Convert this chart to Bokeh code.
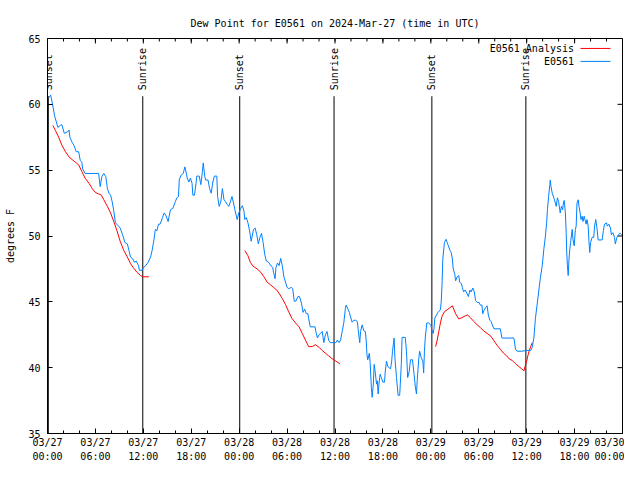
import math
from bokeh.plotting import figure
from bokeh.models import FixedTicker, Range1d, ColumnDataSource
from bokeh.core.properties import value
from bokeh.embed import file_html
from bokeh.resources import INLINE

FONT = "DejaVu Sans Mono"

# ---- data: hours since 2024-03-27 00:00 UTC ----
obs_hours = [0.16, 0.4, 0.6, 0.9, 1.3, 1.6, 1.8, 2.1, 2.5, 2.7, 2.8, 3.1, 3.3, 3.6, 3.9, 4.1, 4.3, 4.4, 4.7, 6.4,
             6.6, 6.8, 7.05, 7.3, 7.5, 7.7, 7.9, 8.1, 8.3, 8.5, 8.9, 9.1, 9.4, 9.7, 10.0, 10.2, 10.4, 10.7, 10.9, 11.1,
             11.4, 11.5, 11.85, 12.0, 12.3, 12.6, 12.9, 13.1, 13.3, 13.5, 13.7, 13.9, 14.1, 14.4, 14.6, 14.8, 15.1, 15.4, 15.7, 16.0,
             16.2, 16.4, 16.5, 16.7, 17.0, 17.2, 17.3, 17.5, 17.7, 17.9, 18.1, 18.2, 18.4, 18.6, 18.7, 19.0, 19.2, 19.4, 19.5, 19.7,
             19.8, 20.1, 20.3, 20.5, 20.7, 20.9, 21.2, 21.3, 21.5, 21.7, 21.9, 22.1, 22.3, 22.5, 22.7, 22.9, 23.1, 23.3, 23.5, 23.75,
             23.95, 24.2, 24.4, 24.6, 24.7, 24.9, 25.1, 25.3, 25.5, 25.8, 26.0, 26.2, 26.4, 26.6, 26.8, 27.0, 27.2, 27.4, 27.7, 27.9,
             28.2, 28.3, 28.5, 28.6, 28.8, 29.0, 29.2, 29.4, 29.6, 29.8, 30.0, 30.2, 30.55, 30.7, 30.9, 31.1, 31.35, 31.55, 31.8, 32.0,
             32.2, 32.4, 32.6, 32.7, 32.9, 33.5, 33.6, 33.8, 34.0, 34.2, 34.4, 34.6, 34.8, 35.0, 35.2, 35.4, 36.1, 36.3, 36.5, 36.7,
             36.9, 37.1, 37.3, 37.4, 37.65, 37.8, 37.9, 38.15, 38.35, 38.6, 38.8, 38.9, 39.0, 39.1, 39.2, 39.4, 39.6, 39.8, 39.9, 40.0,
             40.1, 40.3, 40.4, 40.55, 40.65, 40.8, 40.9, 41.05, 41.2, 41.3, 41.4, 41.5, 41.65, 41.8, 42.0, 42.2, 42.3, 42.45, 42.6, 42.8,
             42.95, 43.1, 43.2, 43.4, 43.5, 43.7, 43.9, 44.1, 44.3, 44.4, 44.8, 44.95, 45.1, 45.3, 45.45, 45.7, 45.9, 46.05, 46.2, 46.3,
             46.5, 46.6, 46.8, 47.0, 47.1, 47.2, 47.3, 47.5, 47.7, 48.0, 48.1, 48.3, 48.4, 48.5, 48.7, 48.9, 49.05, 49.2, 49.3, 49.4,
             49.5, 49.7, 49.9, 50.05, 50.2, 50.4, 50.55, 50.7, 50.8, 51.0, 51.1, 51.3, 51.5, 51.6, 51.8, 51.95, 52.1, 52.3, 52.55, 52.7,
             52.9, 53.05, 53.25, 53.45, 53.6, 53.8, 54.05, 54.2, 54.4, 54.5, 54.7, 54.9, 55.05, 55.2, 55.4, 55.55, 55.7, 55.9, 56.7, 56.9,
             58.4, 58.6, 58.8, 59.4, 59.85, 60.5, 60.7, 60.9, 61.1, 61.3, 61.5, 61.7, 61.95, 62.15, 62.35, 62.5, 62.6, 62.75, 62.9, 62.95,
             63.05, 63.2, 63.4, 63.6, 63.7, 63.85, 64.0, 64.2, 64.35, 64.5, 64.6, 64.7, 64.85, 64.95, 65.0, 65.1, 65.2, 65.3, 65.4, 65.5,
             65.7, 65.8, 65.95, 66.1, 66.2, 66.3, 66.45, 66.55, 66.7, 66.8, 66.95, 67.05, 67.2, 67.3, 67.45, 67.55, 67.7, 67.8, 67.9, 68.0,
             68.2, 68.4, 68.5, 68.65, 68.8, 68.95, 69.45, 69.6, 69.75, 70.0, 70.1, 70.3, 70.5, 70.6, 70.8, 71.0, 71.1, 71.3, 71.5, 71.7,
             71.9]
obs_dewpt = [60.5, 60.7, 60.1, 59.1, 58.25, 58.4, 58.45, 57.8, 57.9, 58.05, 57.5, 57.1, 56.9, 56.4, 56.4, 55.75, 55.6, 55.1, 54.75, 54.75,
             53.75, 54.5, 54.75, 54.5, 53.6, 53.25, 53.1, 52.6, 51.9, 51.0, 50.75, 50.6, 50.1, 49.5, 49.4, 48.9, 48.4, 48.25, 48.0, 48.1,
             47.75, 47.4, 47.4, 47.6, 47.75, 48.0, 48.4, 48.9, 49.6, 50.5, 50.4, 50.9, 50.9, 51.4, 51.75, 51.6, 51.1, 52.0, 52.1, 52.6,
             52.9, 53.0, 54.25, 54.6, 54.75, 55.25, 55.0, 54.4, 54.1, 54.4, 54.0, 53.1, 53.1, 54.0, 54.55, 54.55, 53.9, 54.9, 55.55, 54.5,
             54.25, 54.25, 53.6, 53.25, 54.1, 54.55, 54.55, 53.0, 52.25, 52.6, 53.6, 52.75, 52.6, 52.4, 52.25, 52.6, 53.0, 52.5, 51.9, 51.25,
             51.75, 52.1, 52.3, 51.9, 51.25, 51.4, 51.0, 50.4, 49.6, 50.5, 50.6, 50.1, 49.4, 49.9, 50.2, 49.5, 48.6, 48.1, 48.0, 47.8,
             47.6, 47.25, 46.75, 47.6, 47.95, 47.75, 48.3, 47.75, 46.9, 46.5, 46.1, 46.0, 46.1, 46.0, 45.05, 45.05, 45.4, 45.4, 44.9, 44.2,
             44.45, 44.1, 44.1, 43.75, 43.1, 43.1, 42.75, 42.25, 42.5, 42.6, 42.75, 41.9, 42.5, 42.75, 42.1, 41.9, 41.9, 42.1, 41.9, 42.1,
             42.75, 43.4, 44.5, 44.75, 44.4, 44.2, 43.95, 43.45, 43.6, 43.6, 43.5, 42.9, 42.4, 41.9, 42.75, 43.25, 42.8, 42.75, 42.1, 41.0,
             40.6, 41.1, 40.4, 38.5, 37.75, 38.75, 40.25, 39.6, 38.75, 39.0, 38.0, 38.75, 39.5, 39.25, 38.9, 38.9, 39.75, 40.5, 40.1, 40.0,
             39.9, 40.5, 41.25, 42.25, 40.75, 39.25, 37.9, 37.9, 40.25, 42.3, 42.3, 41.25, 39.25, 39.75, 40.6, 40.6, 39.5, 38.6, 38.0, 39.1,
             40.75, 41.25, 40.75, 40.5, 39.6, 41.25, 42.25, 43.4, 43.4, 43.25, 42.9, 42.6, 43.0, 43.75, 44.0, 44.2, 44.3, 44.4, 45.0, 46.25,
             48.25, 49.5, 49.75, 49.5, 49.25, 48.9, 48.75, 48.25, 47.5, 47.1, 46.6, 46.9, 47.0, 46.5, 46.4, 46.1, 45.75, 45.9, 45.6, 45.4,
             45.9, 45.75, 46.05, 45.75, 45.1, 44.95, 44.95, 44.75, 44.75, 44.1, 44.4, 44.6, 44.7, 44.0, 43.6, 43.5, 43.25, 42.95, 42.95, 42.25,
             42.25, 41.4, 41.25, 41.25, 41.3, 41.3, 41.55, 42.25, 43.75, 44.75, 45.75, 46.75, 47.75, 49.0, 50.0, 51.0, 52.0, 53.0, 53.9, 54.25,
             53.75, 53.25, 52.9, 52.5, 52.25, 52.9, 52.6, 51.75, 52.25, 52.0, 52.5, 52.7, 51.75, 50.25, 49.0, 47.75, 47.0, 48.25, 49.0, 49.5,
             50.5, 49.75, 49.25, 50.5, 50.75, 52.5, 52.75, 52.25, 51.75, 51.25, 51.5, 51.1, 51.5, 51.25, 50.9, 51.25, 50.75, 49.6, 48.75, 49.5,
             49.9, 49.9, 50.75, 51.25, 50.6, 49.7, 49.7, 50.4, 50.9, 51.0, 50.75, 50.9, 50.6, 50.1, 50.25, 49.9, 49.4, 49.9, 50.1, 50.2,
             50.1]

ana1_hours = [0.67, 1.0, 1.4, 1.8, 2.25, 2.7, 3.1, 3.5, 3.9, 4.3, 4.7, 5.2, 5.6, 6.0, 6.4, 6.75, 7.05, 7.5, 7.9, 8.3,
              8.7, 9.1, 9.55, 10.0, 10.4, 10.8, 11.2, 11.65, 11.95, 12.7]
ana1_dewpt = [58.4, 58.0, 57.5, 56.9, 56.4, 56.0, 55.8, 55.6, 55.4, 54.9, 54.4, 54.0, 53.6, 53.3, 53.2, 53.1, 52.75, 52.25, 51.75, 51.1,
              50.4, 49.6, 48.9, 48.4, 47.9, 47.55, 47.25, 47.0, 46.9, 46.9]
ana2_hours = [24.7, 25.1, 25.4, 25.75, 26.25, 26.7, 27.1, 27.5, 27.9, 28.3, 28.7, 29.05, 29.4, 29.8, 30.2, 30.6, 31.05, 31.5, 31.9, 32.3,
              32.7, 33.15, 33.55, 34.0, 34.4, 34.8, 35.2, 35.6, 36.1, 36.6]
ana2_dewpt = [48.9, 48.5, 48.0, 47.7, 47.5, 47.25, 46.9, 46.5, 46.3, 46.1, 45.9, 45.6, 45.25, 44.8, 44.25, 43.75, 43.4, 43.1, 42.6, 42.1,
              41.6, 41.6, 41.75, 41.55, 41.3, 41.1, 40.9, 40.7, 40.5, 40.3]
ana3_hours = [48.6, 48.8, 49.0, 49.2, 49.4, 49.7, 50.05, 50.5, 50.7, 51.1, 51.5, 51.9, 52.35, 52.6, 52.95, 53.4, 53.8, 54.2, 54.6, 55.05,
              55.5, 55.9, 56.3, 56.7, 57.1, 57.5, 57.85, 58.2, 58.6, 59.0, 59.4, 59.65, 59.8, 60.0, 60.15, 60.3, 60.5, 60.7]
ana3_dewpt = [41.6, 42.1, 42.75, 43.4, 43.9, 44.25, 44.4, 44.6, 44.7, 44.1, 43.7, 43.8, 43.95, 44.0, 43.8, 43.5, 43.25, 43.05, 42.8, 42.6,
              42.4, 42.05, 41.7, 41.4, 41.1, 40.9, 40.65, 40.55, 40.3, 40.1, 39.9, 39.75, 40.1, 40.5, 40.9, 41.25, 41.6, 41.9]

sunset_hours = [0.1, 24.07, 48.13]
sunrise_hours = [11.93, 35.88, 59.9]

x_tick_hours = [0, 6, 12, 18, 24, 30, 36, 42, 48, 54, 60, 66, 72]
x_tick_labels = ["03/27\n00:00", "03/27\n06:00", "03/27\n12:00", "03/27\n18:00",
                 "03/28\n00:00", "03/28\n06:00", "03/28\n12:00", "03/28\n18:00",
                 "03/29\n00:00", "03/29\n06:00", "03/29\n12:00", "03/29\n18:00",
                 "03/30\n00:00"]
x_minor_hours = list(range(0, 73, 2))
y_ticks = [35, 40, 45, 50, 55, 60, 65]

series_names = ["E0561 Analysis", "E0561"]
series_colors = ["#ff0000", "#0080ff"]

# ---- layout constants (pixels) ----
W, H = 624, 464
B_LEFT, B_RIGHT, B_TOP, B_BOTTOM = 47, 2, 38, 29
X0, X1, Y0, Y1 = 0, 72, 35, 65
px_per_x = (W - B_LEFT - B_RIGHT) / (X1 - X0)
px_per_y = (H - B_TOP - B_BOTTOM) / (Y1 - Y0)
MAJ, MIN = 5, 3

p = figure(width=W, height=H, output_backend="svg", toolbar_location=None,
           x_range=Range1d(X0, X1), y_range=Range1d(Y0, Y1),
           min_border_left=B_LEFT, min_border_right=B_RIGHT,
           min_border_top=B_TOP, min_border_bottom=B_BOTTOM,
           title="Dew Point for E0561 on 2024-Mar-27 (time in UTC)")
p.background_fill_color = "white"
p.border_fill_color = "white"
p.outline_line_color = "black"
p.outline_line_width = 1
p.xgrid.visible = False
p.ygrid.visible = False

p.title.text_font = FONT
p.title.text_font_size = "10px"
p.title.text_font_style = "normal"
p.title.text_color = "black"
p.title.align = "center"
p.title.standoff = 19

xticker = FixedTicker(ticks=x_tick_hours, minor_ticks=x_minor_hours)
yticker = FixedTicker(ticks=y_ticks, minor_ticks=[])

xa = p.xaxis[0]
xa.ticker = xticker
xa.major_label_overrides = {h: lab for h, lab in zip(x_tick_hours, x_tick_labels)}
ya = p.yaxis[0]
ya.ticker = yticker
ya.axis_label = "degrees F"

for ax in (xa, ya):
    ax.axis_line_color = None
    ax.major_tick_in = MAJ
    ax.major_tick_out = 0
    ax.minor_tick_in = MIN
    ax.minor_tick_out = 0
    ax.major_tick_line_color = "black"
    ax.minor_tick_line_color = "black"
    ax.major_label_text_font = FONT
    ax.major_label_text_font_size = "10px"
    ax.major_label_text_color = "black"
    ax.axis_label_text_font = FONT
    ax.axis_label_text_font_size = "10px"
    ax.axis_label_text_font_style = "normal"
    ax.axis_label_text_color = "black"
xa.major_label_standoff = 3
xa.major_label_text_line_height = 1.3
ya.major_label_standoff = 7
ya.axis_label_standoff = 9

# mirrored ticks on top and right border (gnuplot style)
dy_maj, dy_min = MAJ / px_per_y, MIN / px_per_y
dx_maj = MAJ / px_per_x
p.segment(x0=x_tick_hours, y0=[Y1] * len(x_tick_hours), x1=x_tick_hours,
          y1=[Y1 - dy_maj] * len(x_tick_hours), line_color="black", line_width=1)
p.segment(x0=x_minor_hours, y0=[Y1] * len(x_minor_hours), x1=x_minor_hours,
          y1=[Y1 - dy_min] * len(x_minor_hours), line_color="black", line_width=1)
p.segment(x0=[X1] * len(y_ticks), y0=y_ticks, x1=[X1 - dx_maj] * len(y_ticks),
          y1=y_ticks, line_color="black", line_width=1)

# sunrise / sunset markers
line_top = Y1 - 58 / px_per_y
label_y = Y1 - 52 / px_per_y
ev_hours = sunset_hours + sunrise_hours
ev_names = ["Sunset"] * len(sunset_hours) + ["Sunrise"] * len(sunrise_hours)
ev = ColumnDataSource(dict(x=ev_hours, y0=[Y0] * len(ev_hours), y1=[line_top] * len(ev_hours),
                           ly=[label_y] * len(ev_hours), name=ev_names))
p.segment(x0="x", y0="y0", x1="x", y1="y1", source=ev, line_color="black", line_width=1)
p.text(x="x", y="ly", text="name", source=ev, angle=math.pi / 2, text_align="left",
       text_baseline="middle", text_font=value(FONT), text_font_size="10px", text_color="black")

# analysis (red) and observations (blue)
p.multi_line(xs=[ana1_hours, ana2_hours, ana3_hours], ys=[ana1_dewpt, ana2_dewpt, ana3_dewpt],
             line_color=series_colors[0], line_width=1)
p.line(obs_hours, obs_dewpt, line_color=series_colors[1], line_width=1)

# gnuplot-style key: text right-aligned, sample line to its right
key_text_x = X0 + (573.5 - B_LEFT) / px_per_x
key_line_x0 = X0 + (580 - B_LEFT) / px_per_x
key_line_x1 = X0 + (610 - B_LEFT) / px_per_x
key_y = [Y1 - 10 / px_per_y, Y1 - 23 / px_per_y]
p.text(x=[key_text_x] * 2, y=key_y, text=series_names, text_align="right", text_baseline="middle",
       text_font=value(FONT), text_font_size="10px", text_color="black")
p.segment(x0=[key_line_x0] * 2, y0=key_y, x1=[key_line_x1] * 2, y1=key_y,
          line_color=series_colors, line_width=1)

open("out.html", "w").write(file_html(p, INLINE))
